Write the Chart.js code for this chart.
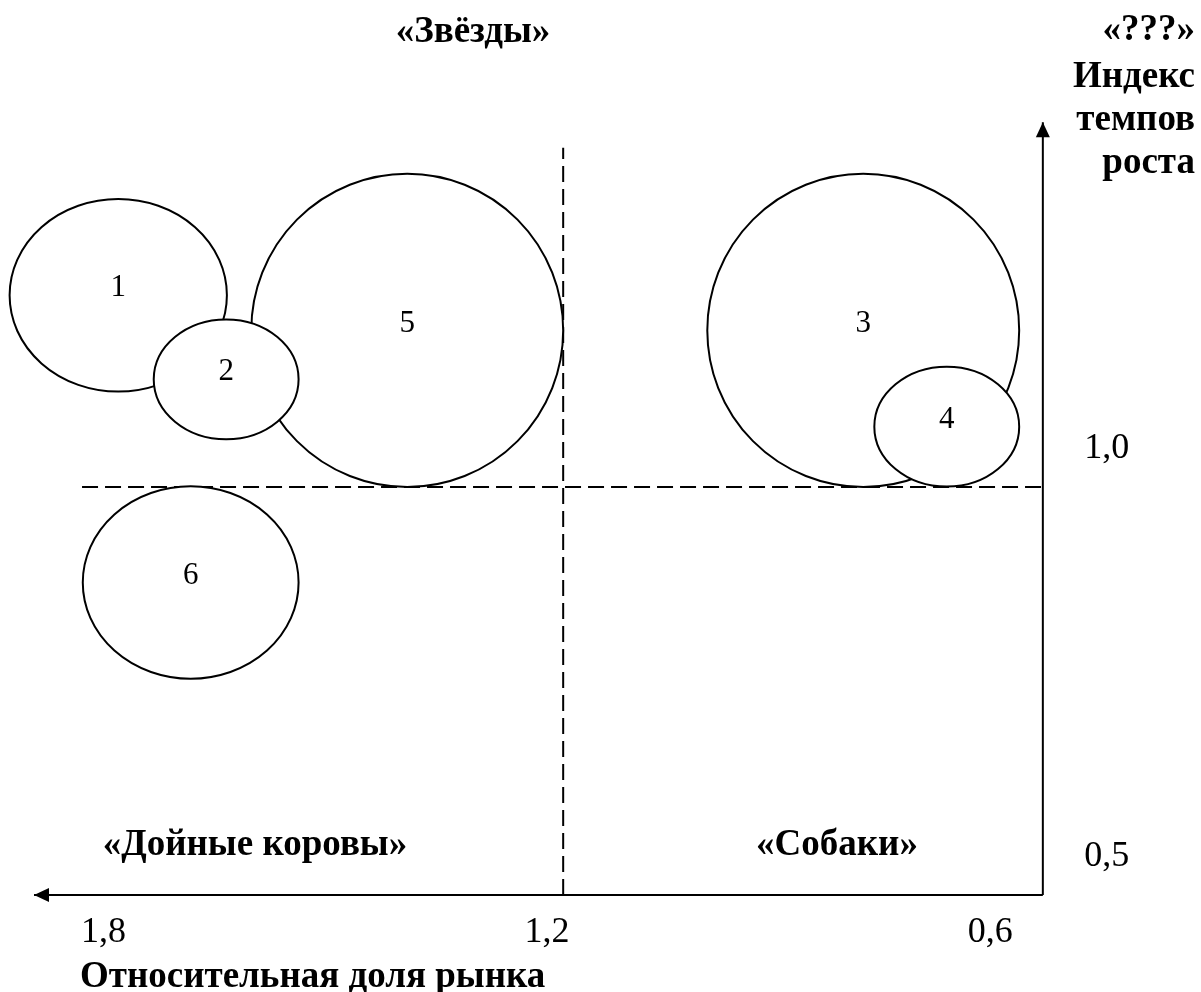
<!DOCTYPE html>
<html>
<head>
<meta charset="utf-8">
<script src="https://cdn.jsdelivr.net/npm/chart.js"></script>
<style>
  html, body { margin: 0; padding: 0; background: #fff; }
  canvas { display: block; }
</style>
</head>
<body>
<canvas id="bcg" width="1201" height="992"></canvas>
<script>
// products on the matrix: relative market share (x), growth index (y),
// ellipse extent in axis units (width along x, height along y)
const productIds = ["1", "2", "3", "4", "5", "6"];
const shareValues = [1.780, 1.634, 0.772, 0.659, 1.389, 1.682];
const growthValues = [1.235, 1.132, 1.192, 1.074, 1.192, 0.883];
const shareExtent = [0.294, 0.196, 0.422, 0.196, 0.422, 0.292];
const growthExtent = [0.236, 0.147, 0.384, 0.147, 0.384, 0.236];

// axis ticks
const shareTicks = [1.8, 1.2, 0.6];
const shareTickLabels = ["1,8", "1,2", "0,6"];
const growthTicks = [1.0, 0.5];
const growthTickLabels = ["1,0", "0,5"];

// axes and quadrant dividers (axis units)
const shareAxisAt = 0.529;
const growthAxisAt = 0.5;
const shareArrowEnd = 1.894;
const growthArrowEnd = 1.447;
const shareDivider = 1.178;
const growthDivider = 1.0;
const dividerTop = 1.416;
const dividerLeft = 1.829;

const quadrantNames = ["«Звёзды»", "«???»", "«Дойные коровы»", "«Собаки»"];
const growthTitle = ["Индекс", "темпов", "роста"];
const shareTitle = "Относительная доля рынка";

const SERIF = '"Liberation Serif", "Times New Roman", serif';

const matrixPlugin = {
  id: "matrix",
  afterDatasetsDraw(chart) {
    const ctx = chart.ctx;
    const xs = chart.scales.x;
    const ys = chart.scales.y;
    const meta = chart.getDatasetMeta(4);

    // bigger ellipses first so the small ones sit on top
    const order = productIds.map((_, i) => i)
      .sort((a, b) => shareExtent[b] * growthExtent[b] - shareExtent[a] * growthExtent[a]);

    ctx.save();
    order.forEach((i) => {
      const pt = meta.data[i];
      const rx = Math.abs(xs.getPixelForValue(0) - xs.getPixelForValue(shareExtent[i])) / 2;
      const ry = Math.abs(ys.getPixelForValue(0) - ys.getPixelForValue(growthExtent[i])) / 2;
      ctx.beginPath();
      ctx.ellipse(pt.x, pt.y, rx, ry, 0, 0, Math.PI * 2);
      ctx.fillStyle = "#fff";
      ctx.fill();
      ctx.lineWidth = 2;
      ctx.strokeStyle = "#000";
      ctx.stroke();
      ctx.fillStyle = "#000";
      ctx.font = "31px " + SERIF;
      ctx.textAlign = "center";
      ctx.textBaseline = "middle";
      ctx.fillText(productIds[i], pt.x, pt.y - 7);
    });

    // arrowheads
    ctx.fillStyle = "#000";
    const ax = xs.getPixelForValue(shareAxisAt);
    const topY = ys.getPixelForValue(growthArrowEnd);
    ctx.beginPath();
    ctx.moveTo(ax, topY);
    ctx.lineTo(ax - 7, topY + 15);
    ctx.lineTo(ax + 7, topY + 15);
    ctx.closePath();
    ctx.fill();
    const ay = ys.getPixelForValue(growthAxisAt);
    const leftX = xs.getPixelForValue(shareArrowEnd);
    ctx.beginPath();
    ctx.moveTo(leftX, ay);
    ctx.lineTo(leftX + 15, ay - 7);
    ctx.lineTo(leftX + 15, ay + 7);
    ctx.closePath();
    ctx.fill();

    // tick labels
    ctx.font = "36px " + SERIF;
    ctx.textAlign = "center";
    ctx.textBaseline = "middle";
    shareTicks.forEach((v, i) => {
      ctx.fillText(shareTickLabels[i], xs.getPixelForValue(v), ay + 38);
    });
    growthTicks.forEach((v, i) => {
      ctx.fillText(growthTickLabels[i], ax + 64, ys.getPixelForValue(v) - 38);
    });

    // quadrant names and axis titles
    ctx.font = "bold 37px " + SERIF;
    ctx.fillText(quadrantNames[0], 473, 32);
    ctx.fillText(quadrantNames[2], 255, 845);
    ctx.fillText(quadrantNames[3], 837, 845);
    ctx.textAlign = "right";
    ctx.fillText(quadrantNames[1], 1195, 30);
    growthTitle.forEach((t, i) => ctx.fillText(t, 1195, 77 + i * 43));
    ctx.textAlign = "left";
    ctx.fillText(shareTitle, 80, 977);
    ctx.restore();
  }
};

const lineStyle = { showLine: true, pointRadius: 0, borderColor: "#000", borderWidth: 2, fill: false };

new Chart(document.getElementById("bcg"), {
  type: "scatter",
  data: {
    datasets: [
      Object.assign({ data: [{ x: dividerLeft, y: growthDivider }, { x: shareAxisAt, y: growthDivider }], borderDash: [16, 7] }, lineStyle),
      Object.assign({ data: [{ x: shareDivider, y: growthAxisAt }, { x: shareDivider, y: dividerTop }], borderDash: [16, 7] }, lineStyle),
      Object.assign({ data: [{ x: shareAxisAt, y: growthAxisAt }, { x: shareAxisAt, y: growthArrowEnd }] }, lineStyle),
      Object.assign({ data: [{ x: shareAxisAt, y: growthAxisAt }, { x: shareArrowEnd, y: growthAxisAt }] }, lineStyle),
      {
        data: shareValues.map((x, i) => ({ x: x, y: growthValues[i] })),
        pointRadius: 0,
        showLine: false
      }
    ]
  },
  options: {
    responsive: false,
    animation: false,
    layout: { padding: 0 },
    scales: {
      x: { type: "linear", reverse: true, min: 0.315, max: 1.94, display: false },
      y: { type: "linear", min: 0.381, max: 1.597, display: false }
    },
    plugins: {
      legend: { display: false },
      tooltip: { enabled: false }
    }
  },
  plugins: [matrixPlugin]
});
</script>
</body>
</html>
